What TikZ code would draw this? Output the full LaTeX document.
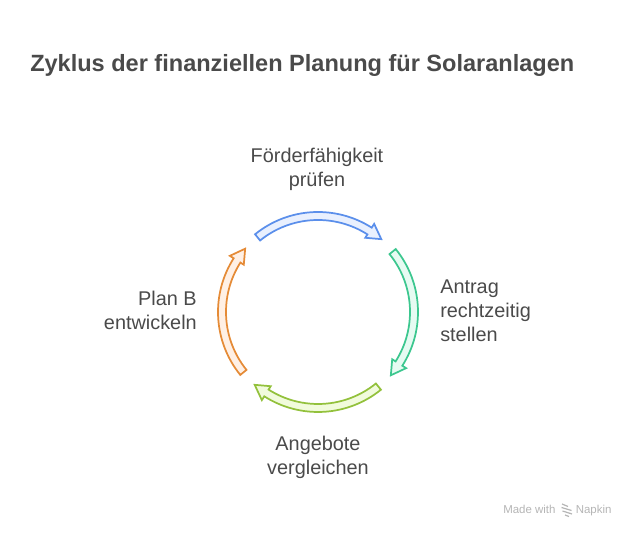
\documentclass[tikz,border=0pt]{standalone}
\usepackage{fontspec}
\setmainfont{Liberation Sans}
\usetikzlibrary{positioning}

\definecolor{blueline}{HTML}{5B8FEB}
\definecolor{bluefill}{HTML}{E9F0FE}
\definecolor{greenline}{HTML}{3CC78F}
\definecolor{greenfill}{HTML}{E6FBF2}
\definecolor{limeline}{HTML}{93C13C}
\definecolor{limefill}{HTML}{F1FBDC}
\definecolor{orangeline}{HTML}{E58B37}
\definecolor{orangefill}{HTML}{FFF0E5}
\definecolor{textcol}{HTML}{4A4A4A}
\definecolor{markcol}{HTML}{B5B5B5}

\tikzset{
  steplabel/.style={text=textcol,font=\fontsize{14.9}{18}\selectfont,inner sep=0pt},
  marklabel/.style={anchor=base west,text=markcol,inner sep=0pt,font=\fontsize{8.6}{10}\selectfont},
  cyclearrow/.style={line width=1.3pt,line join=miter},
}

\begin{document}
\begin{tikzpicture}[x=0.75pt,y=0.75pt]
\useasboundingbox (0,0) rectangle (636,538);

\node[anchor=west,text=textcol,inner sep=0pt,font=\fontsize{17.65}{22}\selectfont\bfseries] (title) at (30,472.5) {Zyklus der finanziellen Planung für Solaranlagen};

% cycle arrows
\foreach \linecol/\fillcol/\rot in {blueline/bluefill/0,greenline/greenfill/-90,limeline/limefill/-180,orangeline/orangefill/-270}
{
\begin{scope}[shift={(318,226)},rotate=\rot]
\draw [cyclearrow,draw=\linecol,fill=\fillcol] (129:92) arc (129:57.5:92) -- (57.5:88) -- (49:96.5) -- (57.5:104.5) -- (57.5:100) arc (57.5:129:100) -- cycle;
\end{scope}
}

\node[steplabel,align=center] (pruefen) at (317,369) {Förderfähigkeit\\prüfen};
\node[steplabel,align=left,anchor=west] (antrag) at (440,227) {Antrag\\rechtzeitig\\stellen};
\node[steplabel,align=center] (angebote) at (318,81) {Angebote\\vergleichen};
\node[steplabel,align=right,anchor=east] (planb) at (197,227.5) {Plan B\\entwickeln};

% watermark
\node[marklabel] (made) at (503,24) {Made with};
\node[marklabel] (napkin) at (575.5,24) {Napkin};
\draw [markcol,line width=0.9pt] (562,34) -- (568,31.5) (561.5,30.5) -- (571.5,27.5) (562.5,27) -- (572,24) (565,23) -- (569,21.5);
\end{tikzpicture}
\end{document}
